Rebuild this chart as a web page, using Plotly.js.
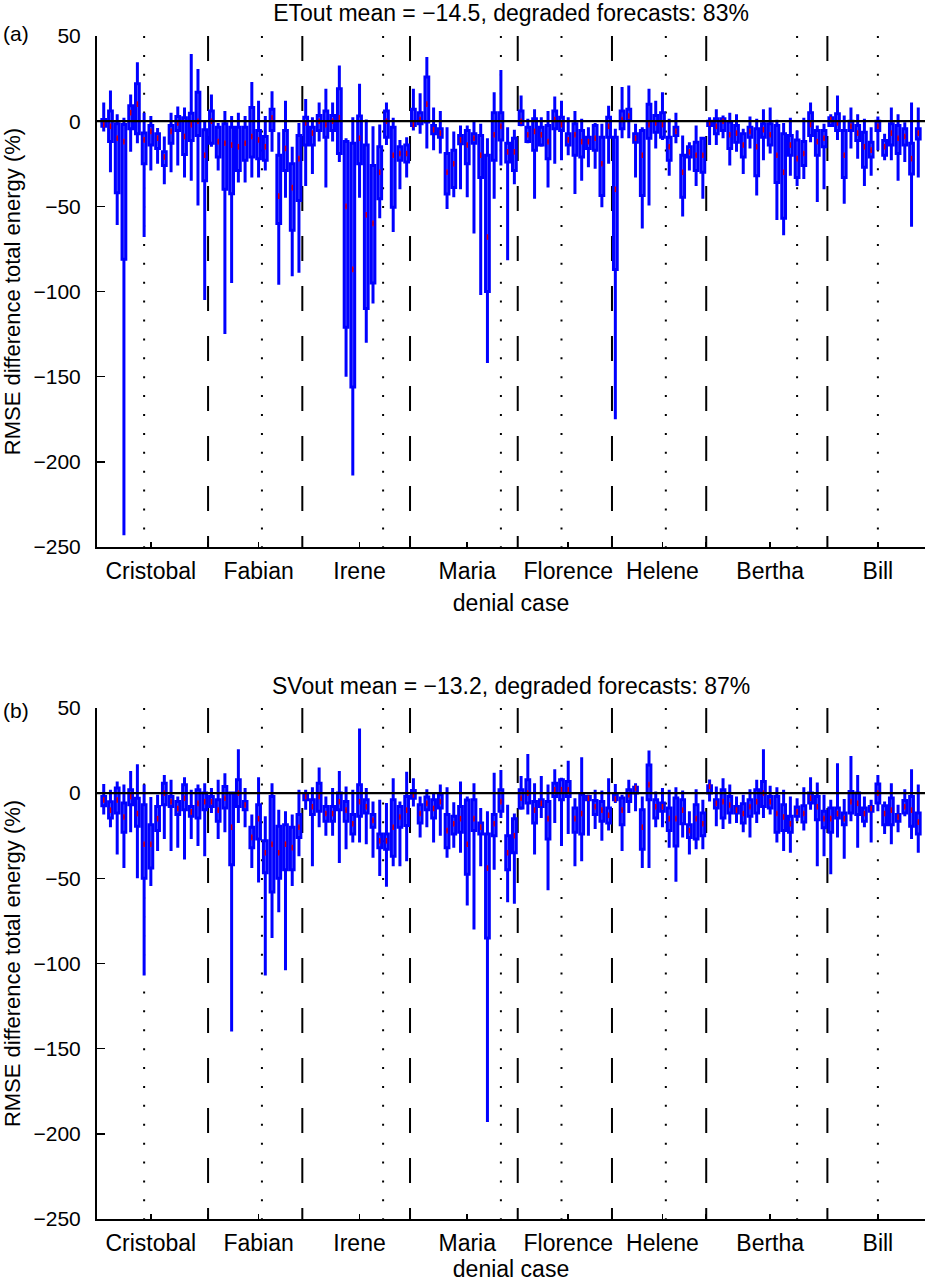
<!DOCTYPE html>
<html>
<head>
<meta charset="utf-8">
<script src="https://cdn.plot.ly/plotly-3.0.1.min.js"></script>
<style>html,body{margin:0;padding:0;background:#fff;}#chart{width:925px;height:1282px;}</style>
</head>
<body>
<div id="chart"></div>
<script>
// ---------- data ----------
const caseNames = ["Cristobal","Fabian","Irene","Maria","Florence","Helene","Bertha","Bill"];
const caseSizes = [16,14,16,16,14,14,18,14];
const labelPos  = [8,24,39,55,70,84,100,116];
const dottedPos = [7,24.5,42.5,60,69,84.5,104,116];

// Panel (a): ETout
const aUpper = [11,18,4,2,15.6,34.6,5,3,-4,-9,5,8.6,8,39.5,30.7,0,
 15.6,-1,6,3,5,3,23,12,3,17.6,-6.5,12,-15,-1,
 13,2.3,11,19,11,32.7,-10,2.3,22,1,-3,-2,11,2,-11,-9.4,
 19,16.4,37.6,8,6,-3.5,-6,-2.5,-2.5,0,-1.5,-10,17,30,-3.5,-5,
 15,1.4,7,2.3,6,14.5,12,2.3,6,1.4,-3.5,-1,-1.5,9,
 -4.5,20,21,-1.5,-3.5,19,12,17,1.4,5,-8.4,-12.3,-2.5,-9.4,
 2.3,7,3.3,5,4,-4.5,2.7,1.4,7,8,0.8,-1,2,-5.5,2,11,-2.5,-1.5,
 4,15,3.3,8,4,1.4,-3.5,2.7,-7.4,8,4,-0.6,11,8];
const aQ3 = [1,6,-1.5,-2,9,22,-7,-2.5,-7.4,-18,-2.5,2.7,2,4.7,17,-5,
 6,-3.5,-1.5,-3.5,-3.5,-3.5,8,-5.5,-9,7,-20,-5.5,-25,-8.4,
 2.3,-3.5,3.3,6,3.3,19,-12,-13,3,-14,-26,-15,6,-3.5,-15,-14,
 7,5,26,-2.5,-4.5,-19,-17,-8.4,-5.5,-7.4,-8.4,-20,5,5,-13,-10,
 6,-3.5,1.4,-3.5,-2.5,6,2.3,-7.4,-1.5,-5.5,-9.4,-2.5,-9.4,2.3,
 -9.4,6,7,-7.4,-5.5,10,3.3,5,-9.4,-3.5,-20,-15,-12.3,-10,
 0,1.4,1.4,-0.5,-2.5,-7.4,-3.5,-4.5,-1.5,-1.5,-2.5,-7.4,-8.4,-11,-12,5,-5.5,-5.5,
 2,4.3,-5.5,0,-2.5,-6.5,-12.3,0,-11.4,-1.5,-2.5,-4.5,-13,-4.5];
const aMedian = [-2,-3,-10,-12,5,10,-11,-6,-10,-21,-6,-1,-9,-2,0,-20,
 0,-12,-13,-14,-15,-13,-9,-11,-15,2,-44,-16,-39,-22,
 -1,-7,0,-2,0,2,-50,-87,-10,-55,-60,-30,0,-20,-19,-19,
 -2,1,10,-5,-7,-30,-25,-11,-14,-10,-20,-68,-8,-3,-18,-18,
 0,-8,-6,-8,-12,1,-2,-11,-8,-12,-12,-10,-25,-3,
 -40,1,3,-10,-20,-2,-1,-2,-15,-6,-30,-18,-20,-20,
 -1,-3,0,-8,-7,-14,-6,-15,-5,-8,-20,-30,-14,-22,-19,-2,-12,-10,
 1,-1,-20,-3,-7,-15,-17,-3,-15,-7,-10,-9,-22,-7];
const aQ1 = [-3,-12,-42,-81,-4.5,-7.4,-25,-14,-16,-26,-13,-5.5,-19.6,-11.4,-8.4,-35,
 -13,-21,-40,-42.6,-29,-23,-21,-22,-23,-5.5,-60,-29,-64,-46.6,
 -14,-14,-5.5,-9.4,-5.5,-19,-121,-156,-25,-110,-95,-45.6,-9.4,-50.5,-23,-24,
 -2.5,-1.5,-0.5,-7.4,-9.4,-42.7,-39,-13.3,-25,-13,-33,-100,-23,-11,-24,-29,
 -2,-12,-17,-14,-22,-4.5,-5.5,-14,-20,-21,-16,-17,-43.6,-9.4,
 -87,-4.5,0.4,-12.3,-43.6,-10,-6.5,-9.4,-23,-8.4,-44.6,-21,-29,-30,
 -2.5,-7.4,-5.5,-16,-12.3,-21,-9.4,-32,-9.4,-14,-36,-57,-20,-33,-26,-8.4,-20,-15,
 -2.5,-5.5,-33,-5.5,-11.4,-27,-21,-5.5,-20,-14,-19,-14,-31,-10.4];
const aLower = [-6,-30,-61,-243,-18,-13,-68,-29,-25,-37,-30,-26,-33,-35,-49.5,-105,
 -15,-29,-125,-95,-36,-36,-33,-33,-29,-18,-96,-45,-91,-89,
 -38,-31,-12,-39,-12,-24,-150,-208,-45,-130,-107,-57,-14,-65,-40,-33,
 -5.5,-7.4,-16,-17,-19,-51.5,-44.6,-40,-44.6,-66,-102,-142,-45.6,-26,-81.6,-37,
 -3,-13,-45.6,-15,-39,-25,-23,-20,-42.7,-35,-27,-28,-50.5,-25,
 -175,-10,-10,-33,-63,-49.5,-16,-11,-32,-13,-56,-29,-38,-45.6,
 -14,-14,-10,-26,-18,-31,-16,-43.6,-23,-19,-58,-67,-32,-38,-34,-12.3,-47.5,-40,
 -3,-11,-48.5,-16,-22,-38,-32,-17,-23,-23,-35,-24,-62,-33];

// Panel (b): SVout
const bUpper = [5.4,2,6.8,5,13,17,5,-2.3,-1,10.7,7.8,-2,9.3,2,5,5.8,
 3,7.8,11.7,0,25.7,3,-12.6,9.3,-13.6,5.8,-9.7,-10.7,-12.6,2,
 2,3.5,15,-2,3,13,3.9,2,38,3,-4.9,-3.9,-5.8,8.8,-4.9,12.6,
 8.8,-2,2.3,0.4,5,3.5,-5.4,6.8,-2,5.8,-8.8,-10.7,12,13.6,-6.8,-12,
 10,23,5.8,10,5,14,9,19,-3,21,-1,2,1.5,8.8,
 5.4,-1,7.8,5.8,-2,25,1,3,2,3.5,1.5,-10.7,2.3,-3.9,
 8,3.9,8.8,5,-2,-1,2.3,7.8,25.7,4.3,3.5,2,-2,-3,3.5,9.3,6.2,-1,
 -3.9,17.5,-3.5,21.8,10.7,-2,-3.9,10.7,-4.9,5.8,-6.8,2.3,14,5];
const bQ3 = [-2,-5,3,-5.8,2,-3,-6.8,-18.5,-7.8,5.8,-2,-4.9,4.9,-7.8,2,0,
 -2,-3.9,3.9,0,7.8,-4.9,-20,-6.8,-28,-2,-19.5,-18.5,-20,-12.6,
 -1,-3.9,5.8,-7.8,-7.8,0,-4.9,-12.6,4.9,-3.9,-12.6,-24,-24,-3.9,-7.8,-2,
 1.5,-6.8,-2.3,-3.9,-1,-12.6,-13.6,-7.8,-4,-3.9,-17.5,-24,-12.6,2,-25,-15,
 2,7.8,-4.9,-3.9,-4.9,5.8,7.8,6.8,-8.8,-1,-2,-4.3,-4.9,-8.8,
 -1,-2.9,2,3.5,-9.7,16.5,-3.9,-5.8,-8.8,-2.9,-3.9,-18.5,-6.8,-11.7,
 4.3,-3.9,2,-2,-7.8,-6.2,-3.9,2,6.8,-2,-2,-6.8,-13.6,-8.2,-7.4,0,-2,-10.7,
 -8.8,-8.8,-11.7,1,0,-8.8,-7.8,5.4,-7.4,-2.9,-12.6,-4.3,-2,-11.7];
const bMedian = [-4,-10,-4,-14,-2,-12,-30,-30,-15,0,-5,-9,-3,-11,-6,-5,
 -5,-10,-3,-20,0,-7,-26,-15,-35,-30,-35,-30,-32,-20,
 -2,-8,-2,-12,-12,-5,-10,-18,-5,-8,-16,-28,-28,-20,-14,-10,
 -1,-12,-6,-9,-5,-22,-18,-15,-30,-15,-20,-44,-18,-5,-35,-25,
 -3,0,-10,-6,-15,2,2,2,-15,-12,-3,-8,-10,-13,
 -3.5,-10,-1,3,-20,5,-8,-8,-15,-15,-10,-22,-15,-18,
 4,-6,-5,-7,-10,-12,-8,-5,0,-5,-12,-14,-18,-11,-12,-3,-8,-15,
 -15,-12,-15,-5,-6,-12,-9,0,-12,-10,-14,-8,-10,-17];
const bQ1 = [-7.4,-14.6,-11.7,-23,-6.8,-19.5,-50,-44,-22,-6.8,-7.8,-12.6,-9.7,-13.6,-14.6,-9.7,
 -7.8,-16.5,-8.8,-42,-7.8,-9.7,-32,-27,-46.7,-58,-50,-45,-45,-26,
 -3.9,-12.6,-10.7,-16.5,-16.5,-9.7,-16.5,-24,-13.6,-11.7,-20,-32,-33,-37,-20,-19,
 -3,-17.5,-9.7,-14.6,-8.8,-32,-24,-23,-47.7,-22,-24,-85,-25,-10.7,-45,-35,
 -8.8,-5.8,-17.5,-7.8,-27,-2,-3.9,-2,-23,-24,-3.9,-12.6,-16.5,-17.5,
 -3.9,-18.5,-4.9,0,-33,-3.9,-14.6,-10.7,-22,-31,-18,-26,-27,-25,
 0,-8.8,-14.6,-11.7,-11.7,-17.5,-13.6,-11.7,-7.8,-8.8,-23,-22,-23,-13.6,-17,-5.8,-15.6,-20.4,
 -23,-14.6,-18.5,-11.7,-12.6,-16.5,-10.7,-5.8,-18.5,-18.5,-16.5,-11.7,-19.5,-24];
const bLower = [-12.6,-20,-36,-44,-23,-50,-107,-54.5,-34,-27,-34,-32,-39,-27,-31,-37,
 -11.7,-27,-23,-140,-17.5,-20,-44,-52.5,-107,-85,-70,-104,-54.5,-37,
 -9.7,-43,-20,-25,-25,-41,-33,-29,-29,-30,-38,-48.6,-55,-43,-43,-40,
 -7.8,-26,-20,-29,-25,-38,-32,-35,-66,-80,-43,-193,-45,-14.6,-64,-65,
 -9.7,-12.6,-36,-14.6,-57,-17.5,-31,-24,-43,-40,-25,-21,-28,-22,
 -5.8,-34,-11.7,-10.7,-44,-44,-20,-20,-32,-52,-26,-36,-33,-33,
 -4.9,-19.5,-21,-18,-17.5,-23,-26,-17.5,-14.6,-12.6,-29,-34,-35,-16.5,-22,-9.7,-43,-37,
 -47.7,-26,-38.5,-16.5,-32,-20,-29,-10.7,-24,-30,-23,-13.6,-27,-35];

const titleA = "ETout mean = −14.5, degraded forecasts: 83%";
const titleB = "SVout mean = −13.2, degraded forecasts: 87%";
const yTitle = "RMSE difference total energy (%)";
const xTitle = "denial case";

// ---------- build ----------
const pos = aMedian.map((_, i) => i + 1);
const boundaries = [];
let acc = 0;
for (let k = 0; k < caseSizes.length - 1; k++) { acc += caseSizes[k]; boundaries.push(acc + 0.5); }

const FONT = "Liberation Sans, Arial, Helvetica, sans-serif";
const BLUE = "#0000ff";
const TXT = 23, TICK = 21, YT = 22;

function boxTrace(xa, ya, up, q3, med, q1, lo) {
  return {
    type: "box", xaxis: xa, yaxis: ya, x: pos,
    q1: q1, median: med, q3: q3, lowerfence: lo, upperfence: up,
    boxpoints: false, width: 0.56, whiskerwidth: 0,
    line: {color: BLUE, width: 3}, fillcolor: "#6060ff",
    hoverinfo: "skip", showlegend: false
  };
}
function medTrace(xa, ya, med) {
  return {
    type: "scatter", mode: "markers", xaxis: xa, yaxis: ya, x: pos, y: med,
    marker: {symbol: "line-ns", size: 4, color: "red", line: {color: "#e00000", width: 1.5}},
    hoverinfo: "skip", showlegend: false
  };
}

const data = [
  boxTrace("x", "y", aUpper, aQ3, aMedian, aQ1, aLower),
  medTrace("x", "y", aMedian),
  boxTrace("x2", "y2", bUpper, bQ3, bMedian, bQ1, bLower),
  medTrace("x2", "y2", bMedian)
];

const shapes = [];
[["x","y"],["x2","y2"]].forEach(([xa, ya]) => {
  boundaries.forEach(b => shapes.push({type:"line", xref:xa, yref:ya+" domain", x0:b, x1:b, y0:1, y1:0,
    line:{color:"black", width:2, dash:"25px,25px"}, layer:"below"}));
  dottedPos.forEach(d => shapes.push({type:"line", xref:xa, yref:ya+" domain", x0:d, x1:d, y0:1, y1:0,
    line:{color:"black", width:2, dash:"2px,16.9px"}, layer:"below"}));
  shapes.push({type:"line", xref:xa+" domain", yref:ya, x0:0, x1:1, y0:0, y1:0,
    line:{color:"black", width:2.2}, layer:"above"});
});

const tickVals = labelPos.concat(boundaries);
const tickText = caseNames.concat(boundaries.map(() => ""));

function xAxis(anchor) {
  return {anchor: anchor, domain:[0,1], range:[0,123], showgrid:false, zeroline:false,
    showline:true, linecolor:"black", linewidth:2, ticks:"inside", ticklen:5, tickwidth:1.5, tickcolor:"black",
    tickvals: tickVals, ticktext: tickText, tickfont:{size:TXT, color:"black", family:FONT},
    ticklabelstandoff: 2,
    title:{text:xTitle, font:{size:TXT, color:"black", family:FONT}, standoff:12}};
}
function yAxis(anchor, dom) {
  return {anchor: anchor, domain: dom, range:[-250,50], dtick:50, showgrid:false, zeroline:false,
    showline:true, linecolor:"black", linewidth:2, ticks:"inside", ticklen:8, tickwidth:1.5, tickcolor:"black",
    tickfont:{size:TICK, color:"black", family:FONT}, ticklabelstandoff: 10,
    title:{text:yTitle, font:{size:YT, color:"black", family:FONT}, standoff:11}};
}

const layout = {
  width: 925, height: 1282,
  margin: {l:97, r:0, t:36, b:63},
  paper_bgcolor: "white", plot_bgcolor: "white",
  font: {family: FONT, color: "black", size: TXT},
  title: {text: titleA, x: 0.5525, xanchor: "center", y: 0.990, yanchor: "middle",
    font: {size: TXT, color: "black", family: FONT}},
  xaxis: xAxis("y"), yaxis: yAxis("x", [0.568, 1]),
  xaxis2: xAxis("y2"), yaxis2: yAxis("x2", [0, 0.432]),
  shapes: shapes,
  annotations: [
    {text: titleB, xref:"paper", yref:"paper", x:0.5, xanchor:"center", y:0.432, yanchor:"middle", yshift:22,
     showarrow:false, font:{size:TXT, color:"black", family:FONT}},
    {text:"(a)", xref:"paper", yref:"paper", x:0, xshift:-96, xanchor:"left", y:1, yanchor:"middle", yshift:3,
     showarrow:false, font:{size:TICK, color:"black", family:FONT}},
    {text:"(b)", xref:"paper", yref:"paper", x:0, xshift:-96, xanchor:"left", y:0.432, yanchor:"middle", yshift:-3,
     showarrow:false, font:{size:TICK, color:"black", family:FONT}}
  ]
};

Plotly.newPlot("chart", data, layout, {staticPlot: true, displayModeBar: false});
</script>
</body>
</html>
